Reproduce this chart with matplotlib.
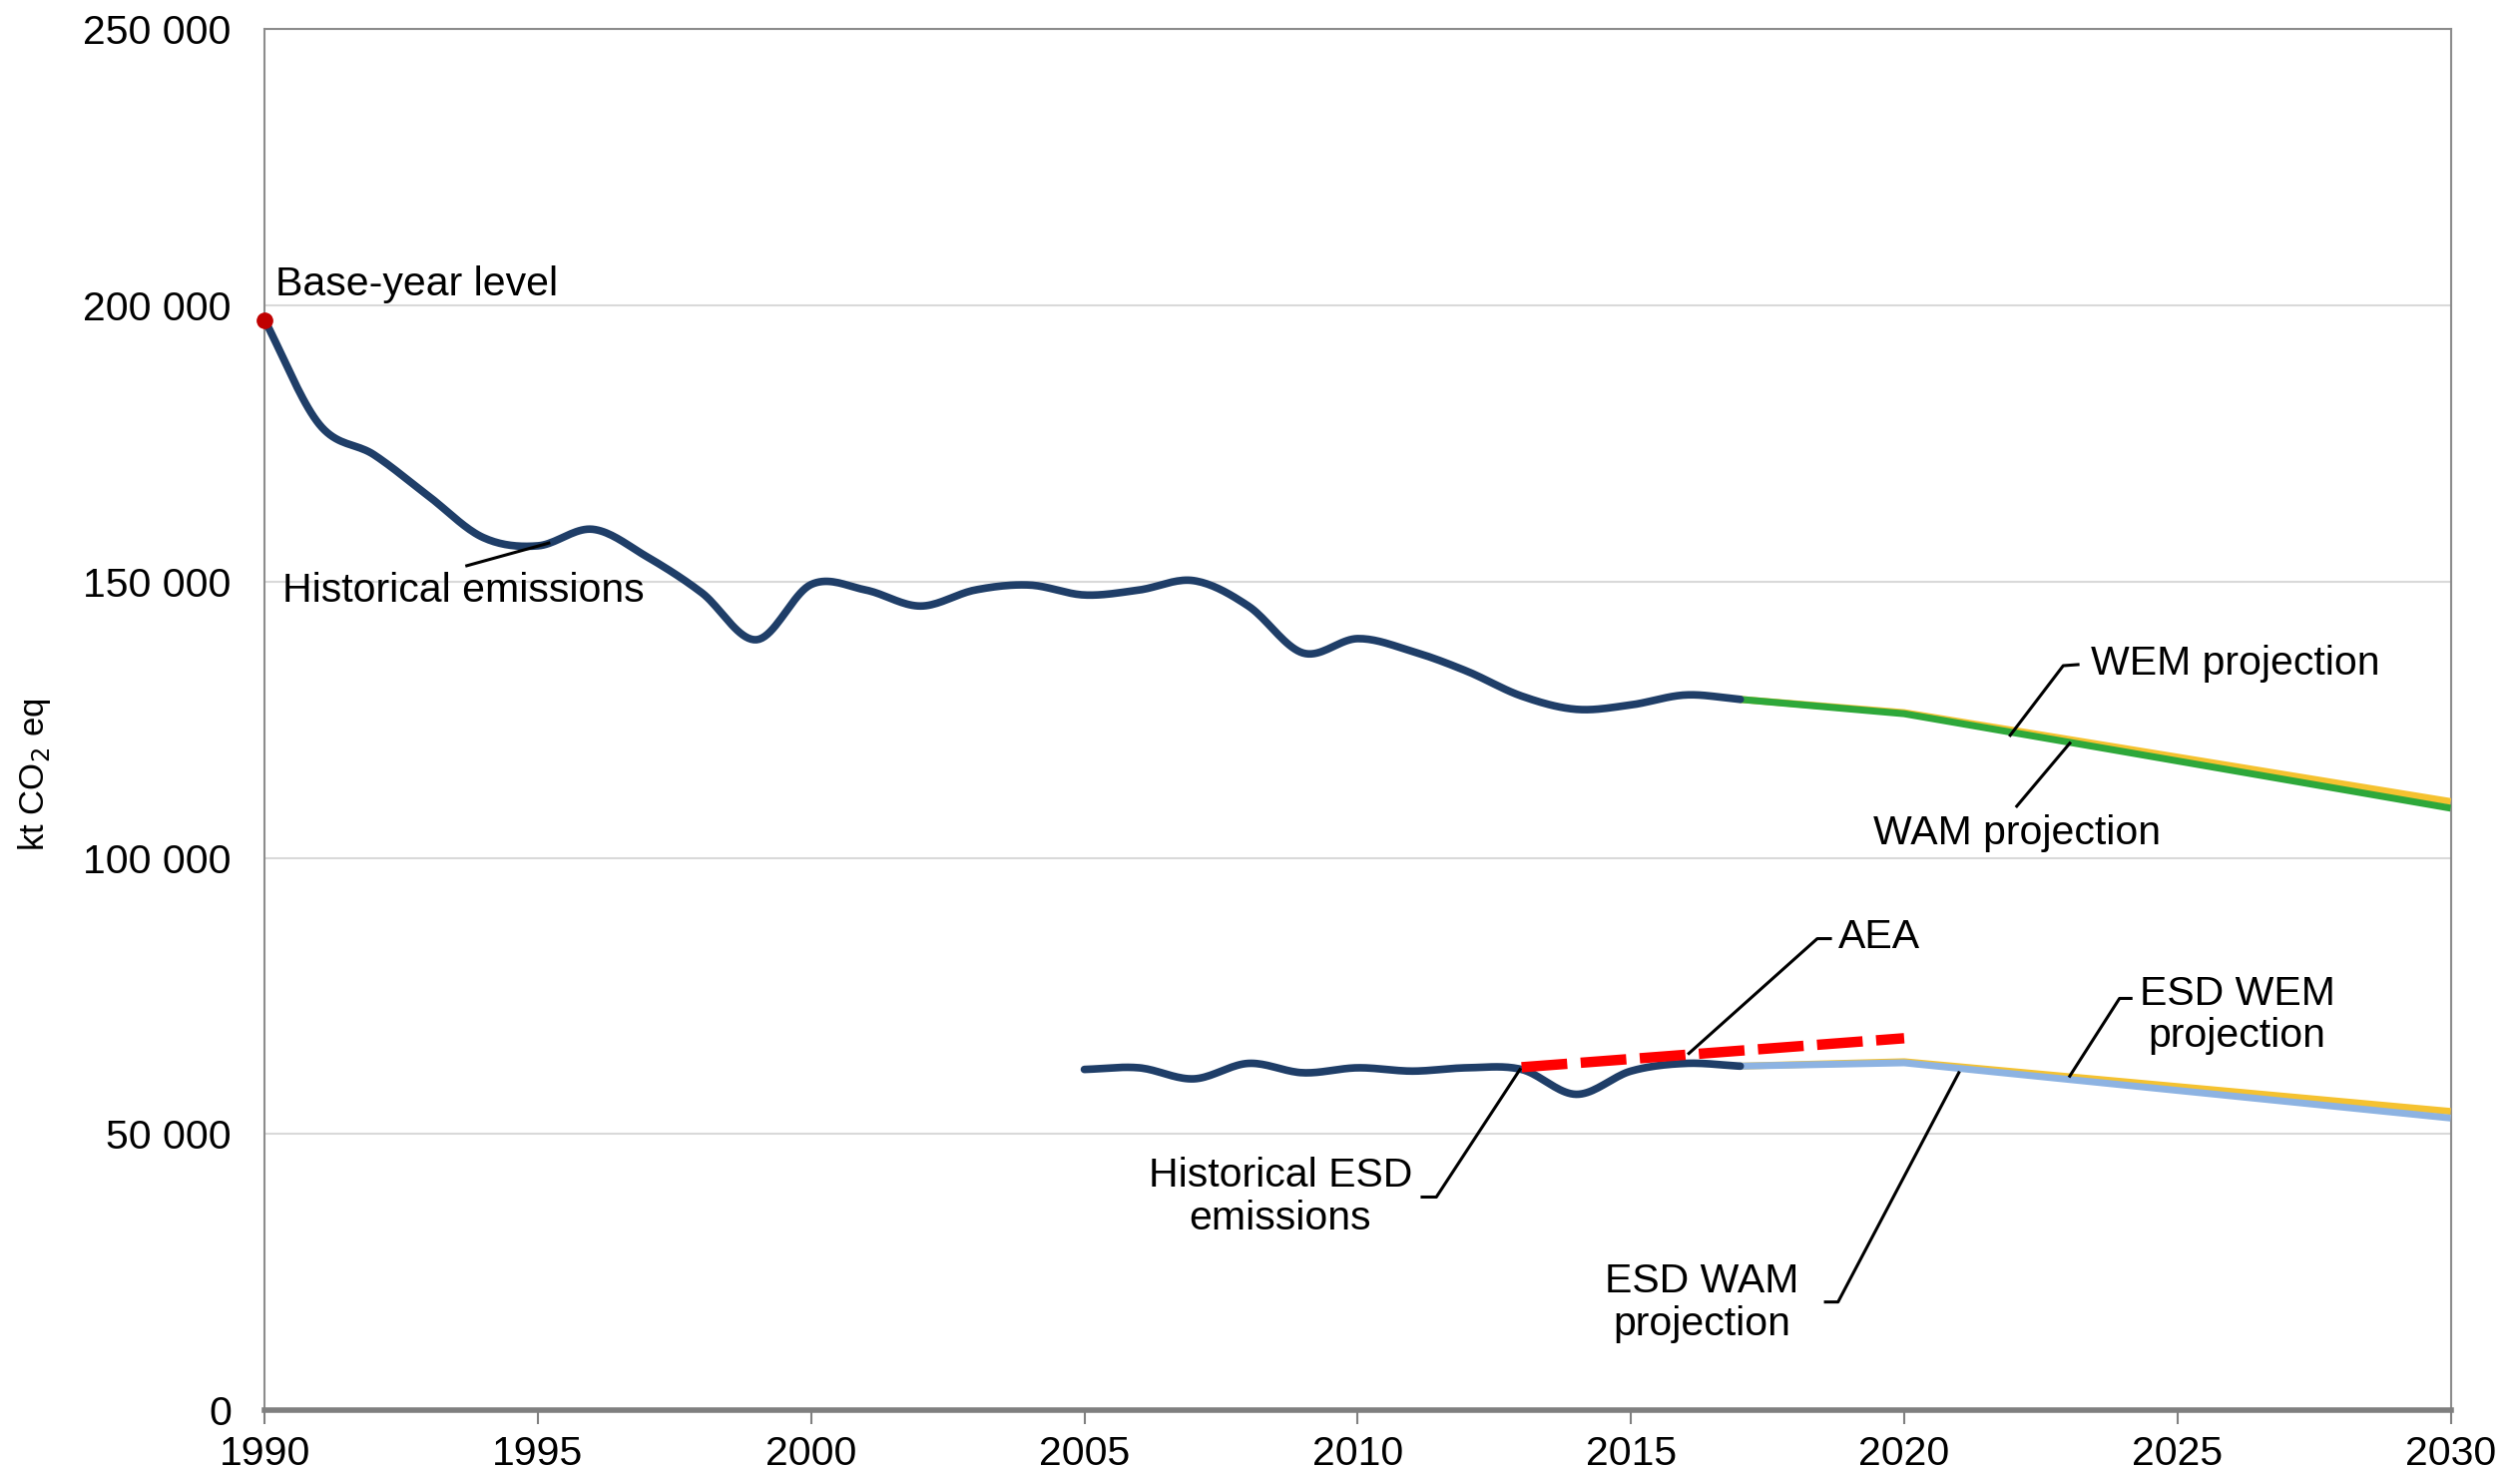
import numpy as np
import matplotlib
matplotlib.use("Agg")
import matplotlib.pyplot as plt
from matplotlib.ticker import FuncFormatter

plt.rcParams['font.family'] = ['Liberation Sans', 'DejaVu Sans']

# Daten (kt CO2 eq)
hist_years = list(range(1990, 2018))
hist_values = [197400, 178500, 173000, 165500, 158000, 156500, 159500, 154500,
               148000, 139500, 149500, 148500, 145600, 148500, 149400, 147600,
               148500, 150200, 145600, 137100, 139700, 137400, 133800, 129300,
               126900, 127700, 129500, 128700]

proj_years = [2017, 2020, 2030]
wem_values = [128700, 126300, 110200]
wam_values = [128700, 126100, 109000]

esd_years = list(range(2005, 2018))
esd_values = [61700, 62000, 60000, 62800, 61100, 62000, 61400, 62000,
              61700, 57200, 61400, 62800, 62300]

esd_proj_years = [2017, 2020, 2030]
esd_wem_values = [62300, 63100, 54100]
esd_wam_values = [62300, 62900, 52900]

aea_years = list(range(2013, 2021))
aea_values = [62100, 62850, 63600, 64350, 65100, 65850, 66600, 67350]

base_year = 1990
base_value = 197400


def smooth(x, y, n=20):
    # Catmull-Rom Glaettung wie bei Excel "geglaettete Linie"
    x = np.asarray(x, float)
    y = np.asarray(y, float)
    px = np.concatenate([[2 * x[0] - x[1]], x, [2 * x[-1] - x[-2]]])
    py = np.concatenate([[2 * y[0] - y[1]], y, [2 * y[-1] - y[-2]]])
    xs, ys = [], []
    t = np.linspace(0, 1, n, endpoint=False)
    for i in range(1, len(px) - 2):
        p0, p1, p2, p3 = px[i - 1], px[i], px[i + 1], px[i + 2]
        q0, q1, q2, q3 = py[i - 1], py[i], py[i + 1], py[i + 2]
        xs.append(0.5 * (2 * p1 + (-p0 + p2) * t + (2 * p0 - 5 * p1 + 4 * p2 - p3) * t**2 + (-p0 + 3 * p1 - 3 * p2 + p3) * t**3))
        ys.append(0.5 * (2 * q1 + (-q0 + q2) * t + (2 * q0 - 5 * q1 + 4 * q2 - q3) * t**2 + (-q0 + 3 * q1 - 3 * q2 + q3) * t**3))
    xs.append([x[-1]])
    ys.append([y[-1]])
    return np.concatenate(xs), np.concatenate(ys)


fig = plt.figure(figsize=(25.25, 14.72), dpi=100)
ax = fig.add_axes([0.105, 0.040, 0.8675, 0.940])

navy = '#1F3E68'
green = '#2EA83A'
yellow = '#F5C230'
lightblue = '#8DB3E2'
fs = 29.5

# Projektionen
ax.plot(proj_years, wem_values, color=yellow, lw=5, zorder=3, solid_capstyle='butt')
ax.plot(proj_years, wam_values, color=green, lw=5, zorder=4, solid_capstyle='butt')
ax.plot(esd_proj_years, esd_wem_values, color=yellow, lw=5, zorder=3, solid_capstyle='butt')
ax.plot(esd_proj_years, esd_wam_values, color=lightblue, lw=5, zorder=4, solid_capstyle='butt')

# historische Emissionen
hx, hy = smooth(hist_years, hist_values)
ax.plot(hx, hy, color=navy, lw=5.5, zorder=5, solid_capstyle='round')
ex, ey = smooth(esd_years, esd_values)
ax.plot(ex, ey, color=navy, lw=5.5, zorder=5, solid_capstyle='round')

# AEA
ax.plot(aea_years, aea_values, color='#FF0000', lw=7.5, dashes=(4.4, 1.3),
        dash_capstyle='butt', zorder=6)

ax.plot([base_year], [base_value], 'o', color='#C00000', ms=11, zorder=7, clip_on=False)

ax.set_xlim(1990, 2030)
ax.set_ylim(0, 250000)
ax.set_xticks(range(1990, 2031, 5))
ax.set_yticks(range(0, 250001, 50000))
ax.yaxis.set_major_formatter(FuncFormatter(lambda v, p: f"{int(v):,}".replace(",", " ")))
ax.tick_params(axis='x', direction='out', length=10, width=1.5, color='#808080',
               labelsize=fs, pad=8)
ax.tick_params(axis='y', length=0, labelsize=fs, pad=24)
ax.grid(axis='y', color='#D9D9D9', lw=1.5)
ax.set_axisbelow(True)
for s in ['left', 'right', 'top']:
    ax.spines[s].set_color('#8C8C8C')
    ax.spines[s].set_linewidth(1.5)
ax.spines['bottom'].set_color('#7F7F7F')
ax.spines['bottom'].set_linewidth(4)
ax.set_ylabel('kt CO$_2$ eq', fontsize=25)
ax.yaxis.set_label_coords(-0.097, 0.46)

lc = dict(color='black', lw=2.2, zorder=8)

ax.text(1990.2, 203800, 'Base-year level', fontsize=fs, va='center', ha='left')
ax.text(1990.32, 148300, 'Historical emissions', fontsize=fs, va='center', ha='left')
ax.plot([1993.7, 1995.2], [152900, 157000], **lc)

ax.plot([2021.94, 2022.91, 2023.18], [122200, 134800, 135000], **lc)
ax.text(2023.41, 135090, 'WEM projection', fontsize=fs, va='center', ha='left')

ax.plot([2023.03, 2022.06], [120760, 109360], **lc)
ax.text(2022.06, 104400, 'WAM projection', fontsize=fs, va='center', ha='center')

ax.plot([2016.06, 2018.41, 2018.65], [64600, 85380, 85380], **lc)
ax.text(2018.8, 85600, 'AEA', fontsize=fs, va='center', ha='left')

ax.plot([2012.97, 2011.44, 2011.18], [61700, 38600, 38600], **lc)
ax.text(2011.0, 38600, 'Historical ESD\nemissions', fontsize=fs, va='center',
        ha='right', multialignment='center', linespacing=1.15)

ax.plot([2023.03, 2023.94, 2024.15], [60500, 74560, 74560], **lc)
ax.text(2026.09, 71600, 'ESD WEM\nprojection', fontsize=fs, va='center',
        ha='center', multialignment='center', linespacing=1.15)

ax.plot([2021.0, 2018.79, 2018.56], [61100, 19600, 19600], **lc)
ax.text(2016.3, 19450, 'ESD WAM\nprojection', fontsize=fs, va='center',
        ha='center', multialignment='center', linespacing=1.15)

fig.savefig('out.png', dpi=100)
